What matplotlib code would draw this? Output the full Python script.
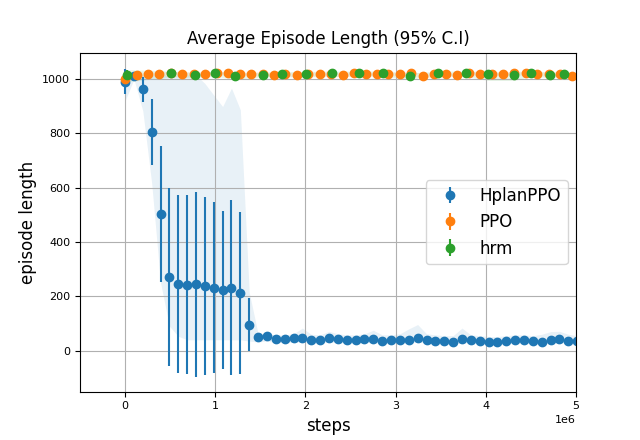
import numpy as np
import matplotlib
matplotlib.use("Agg")
import matplotlib.pyplot as plt

# logging intervals (env steps between evaluations)
hplan_step = 98304
ppo_step = 126976

# HplanPPO: mean episode length, 95% CI half width, shaded band
hplan_len = [991, 1010, 963, 805, 503, 271, 245, 242, 245, 238, 231, 225, 231, 212, 95,
             50, 55, 43, 43, 47, 47, 39, 39, 47, 43, 39, 39, 43, 43, 36, 39, 39, 39, 47, 39,
             36, 36, 32, 43, 39, 36, 32, 32, 36, 39, 39, 36, 32, 39, 43, 36, 36]
hplan_err = [46, 8, 46, 120, 250, 328, 327, 330, 341, 328, 315, 291, 322, 297, 98,
             5, 5, 4, 4, 5, 12, 4, 4, 5, 4, 4, 4, 5, 5, 4, 4, 4, 5, 15, 4,
             4, 4, 4, 15, 4, 4, 4, 4, 4, 4, 4, 4, 4, 5, 5, 4, 4]
hplan_hi = [1040, 1015, 1015, 1015, 1015, 1015, 1015, 1015, 1015, 984, 941, 899, 967, 887, 215,
            62, 62, 58, 58, 62, 83, 60, 58, 71, 62, 58, 58, 62, 75, 58, 58, 62, 80, 96, 62,
            58, 55, 55, 83, 58, 55, 52, 52, 55, 58, 58, 55, 60, 70, 71, 60, 55]
hplan_lo = [920, 1000, 883, 617, 250, 90, 53, 40, 40, 40, 40, 40, 40, 40, 35,
            32, 35, 30, 30, 32, 32, 28, 28, 32, 30, 28, 28, 30, 30, 25, 28, 28, 28, 32, 28,
            25, 25, 22, 30, 28, 25, 22, 22, 25, 28, 28, 25, 22, 28, 30, 25, 25]

# PPO
ppo_len = [1000, 1017, 1019, 1019, 1021, 1019, 1019, 1019, 1021, 1022, 1019, 1019, 1019, 1015,
           1019, 1015, 1019, 1019, 1019, 1015, 1022, 1019, 1019, 1019, 1019, 1022, 1011, 1019,
           1019, 1015, 1022, 1019, 1019, 1019, 1022, 1022, 1019, 1019, 1019, 1011]
ppo_err = [25] + [3] * 39

# hrm
hrm_steps = [0.022e6, 0.509e6, 0.774e6, 0.999e6, 1.220e6, 1.530e6, 1.737e6, 2.002e6, 2.298e6,
             2.592e6, 2.857e6, 3.156e6, 3.466e6, 3.780e6, 4.021e6, 4.309e6, 4.502e6, 4.712e6,
             4.867e6]
hrm_len = [1017, 1023, 1016, 1023, 1011, 1017, 1019, 1019, 1023, 1023, 1023, 1011, 1023, 1023,
           1019, 1015, 1023, 1017, 1019]
hrm_err = [15] + [3] * 18
hrm_lo = [990, 1008, 1005, 1010, 1000, 1008, 1008, 1008, 1010, 1012, 1010, 1000, 1012, 1010,
          995, 995, 1010, 1005, 1008]
hrm_hi = [1035, 1030, 1025, 1030, 1022, 1026, 1028, 1028, 1030, 1030, 1030, 1022, 1030, 1030,
          1028, 1025, 1030, 1026, 1028]

hplan_x = np.arange(len(hplan_len)) * hplan_step
ppo_x = np.arange(len(ppo_len)) * ppo_step
ppo_y = np.array(ppo_len)

fig, ax = plt.subplots(figsize=(6.4, 4.4), dpi=100)

ax.fill_between(hplan_x, hplan_lo, hplan_hi, color='C0', alpha=0.1, linewidth=0)
ax.fill_between(ppo_x, ppo_y - 8, ppo_y + 8, color='C1', alpha=0.1, linewidth=0)
ax.fill_between(hrm_steps, hrm_lo, hrm_hi, color='C2', alpha=0.1, linewidth=0)

ax.errorbar(hplan_x, hplan_len, yerr=hplan_err, fmt='o', color='C0', label='HplanPPO')
ax.errorbar(ppo_x, ppo_len, yerr=ppo_err, fmt='o', color='C1', label='PPO')
ax.errorbar(hrm_steps, hrm_len, yerr=hrm_err, fmt='o', color='C2', label='hrm')

ax.set_xlim(-0.5e6, 5e6)
ax.set_ylim(-151, 1097)
ax.set_yticks([0, 200, 400, 600, 800, 1000])
ax.grid(True)
ax.set_title('Average Episode Length (95% C.I)')
ax.set_xlabel('steps', fontsize=12)
ax.set_ylabel('episode length', fontsize=12)
ax.tick_params(labelsize=8)
ax.xaxis.get_offset_text().set_fontsize(8)
ax.legend(loc='center right', fontsize=12)

fig.savefig('out.png')
